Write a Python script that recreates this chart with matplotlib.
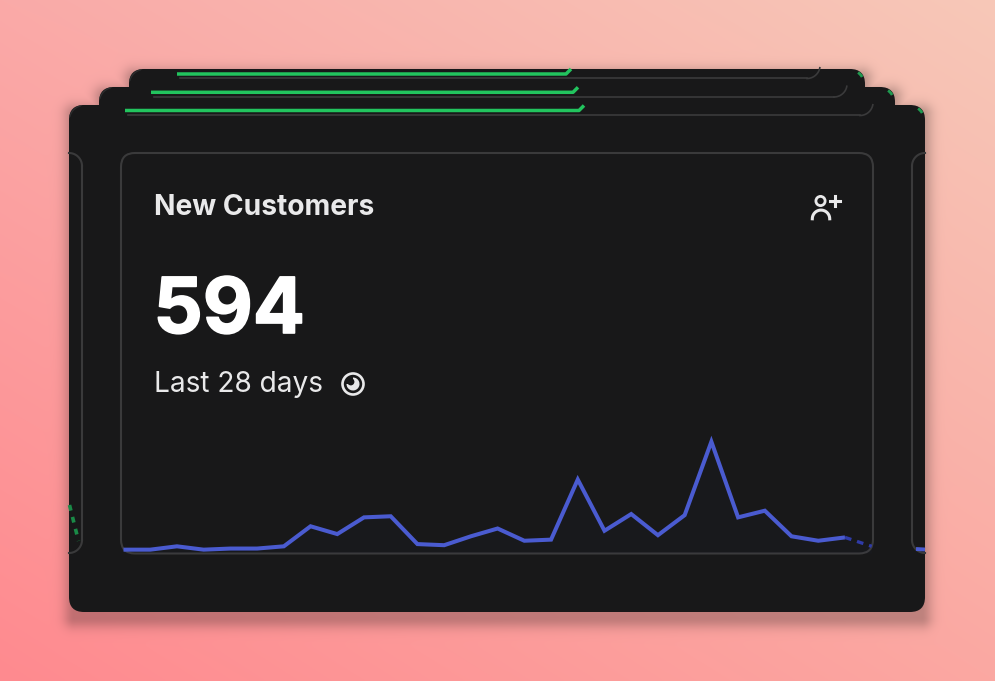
#!/usr/bin/env python3
import numpy as np
import matplotlib
matplotlib.use('Agg')
import matplotlib.pyplot as plt
import matplotlib.patheffects as pe
from matplotlib.patches import FancyBboxPatch, Circle, Wedge

W, H = 995, 681

title = 'New Customers'
total = '594'
period = 'Last 28 days'

# daily values
days = list(range(29))
customers = [3, 3, 6, 3, 4, 4, 6, 24, 17, 32, 33, 8, 7, 15, 22, 11, 12, 66,
             20, 35, 16, 34, 100, 32, 38, 15, 11, 14, 6]

CARD = '#181819'
EDGE = '#3a3a3b'
GREEN = '#22c45e'
BLUE = '#4a5bd0'
TEXT = '#e9e9ea'

fig = plt.figure(figsize=((W + 0.01) / 100, (H + 0.01) / 100), dpi=100)
bg = fig.add_axes([0, 0, 1, 1])
bg.set_xlim(0, W)
bg.set_ylim(H, 0)
bg.axis('off')


def background():
    yy, xx = np.mgrid[0:H, 0:W]
    u = xx / (W - 1)
    v = yy / (H - 1)
    corners = {
        'tl': np.array([250, 170, 168.]),
        'tr': np.array([247, 200, 184.]),
        'bl': np.array([255, 138, 143.]),
        'br': np.array([251, 168, 162.]),
    }
    img = np.zeros((H, W, 3))
    for c in range(3):
        top = corners['tl'][c] * (1 - u) + corners['tr'][c] * u
        bot = corners['bl'][c] * (1 - u) + corners['br'][c] * u
        img[..., c] = top * (1 - v) + bot * v
    # soft shadow of the card stack, mostly below it
    dist = np.full((H, W), 1e6)
    for x0, y0, x1, y1 in [(74, 110, 920, 612), (104, 92, 890, 300), (134, 74, 860, 300)]:
        dx = np.maximum(np.maximum(x0 - xx, xx - x1), 0)
        dy = np.maximum(np.maximum(y0 - (yy - 5), (yy - 5) - y1), 0)
        dist = np.minimum(dist, np.hypot(dx, dy))
    alpha = 0.26 * np.exp(-(dist / 11.0) ** 2)
    for c in range(3):
        img[..., c] = img[..., c] * (1 - alpha) + 20 * alpha
    return img / 255


bg.imshow(background(), extent=(0, W, H, 0), aspect='auto', zorder=0)


def rbox(x0, y0, x1, y1, r, **kw):
    p = FancyBboxPatch((x0, y0), x1 - x0, y1 - y0,
                       boxstyle='round,pad=0,rounding_size=%s' % r, **kw)
    bg.add_patch(p)
    return p


def arc(cx, cy, r, a0, a1, **kw):
    t = np.radians(np.linspace(a0, a1, 30))
    bg.plot(cx + r * np.cos(t), cy + r * np.sin(t), **kw)


# card stack, back to front
rbox(129, 69, 865, 300, 15, fc=CARD, ec='none', zorder=1)
rbox(99, 87, 895, 300, 15, fc=CARD, ec='none', zorder=2)
rbox(69, 105, 925, 612, 15, fc=CARD, ec='none', zorder=3)

# the panels of the cards behind, only their lower edge is visible
stack = [(177, 571, 74, 78.5, 820), (151, 578, 92.3, 97, 847), (125, 584, 110.5, 115.5, 873)]
for x0, x1, yg, yb, xr in stack:
    bg.plot([x0 + 3, xr - 13], [yb, yb], color=EDGE, lw=1.2, zorder=4)
    arc(xr - 13, yb - 13, 13, 10, 90, color=EDGE, lw=1.2, zorder=4)
    bg.plot([x0, x1 - 5, x1], [yg, yg, yg - 5], color=GREEN,
            lw=2.5, zorder=5, solid_capstyle='butt', solid_joinstyle='round')

# corners of the cards, dark rim and a green tip on the right
for x0, x1, y0 in [(129, 865, 69), (99, 895, 87), (69, 925, 105)]:
    arc(x0 + 15, y0 + 15, 14.5, 195, 255, color='#2d2e2f', lw=0.9, zorder=5)
    arc(x1 - 15, y0 + 15, 14, 305, 330, color='#1f9a50', lw=2.0, zorder=5,
        solid_capstyle='butt')

# front panel with neighbours either side
rbox(121, 153, 873, 553.5, 14, fc='none', ec=EDGE, lw=1.5, zorder=6)
bg.plot([82, 82], [166, 540], color=EDGE, lw=1.5, zorder=6)
arc(69, 540, 13, 0, 90, color=EDGE, lw=1.5, zorder=6)
arc(69, 166, 13, -90, 0, color=EDGE, lw=1.5, zorder=6)
bg.plot([912, 912], [166, 540], color=EDGE, lw=1.5, zorder=6)
arc(925, 540, 13, 90, 180, color=EDGE, lw=1.5, zorder=6)
arc(925, 166, 13, 180, 270, color=EDGE, lw=1.5, zorder=6)
bg.plot([916, 925], [549, 549.5], color=BLUE, lw=2.8, zorder=6, solid_capstyle='butt')
bg.plot([69.5, 72, 75, 78.5], [505, 515, 527, 541], color='#1a8a47', lw=2.6,
        ls=(0, (1.6, 1.8)), zorder=6)

# texts
bg.text(153.5, 215, title, color=TEXT, fontsize=20.3, family='Inter', fontweight='bold',
        va='baseline', ha='left', zorder=7)
bg.text(153.5, 333, total, color='white', fontsize=55.5, family='Inter', fontweight='bold',
        va='baseline', ha='left', zorder=7,
        path_effects=[pe.withStroke(linewidth=1.2, foreground='white')])
bg.text(153.5, 392, period, color=TEXT, fontsize=20.2, family='Inter',
        va='baseline', ha='left', zorder=7)

# clock icon
bg.add_patch(Circle((353, 384), 10.5, fc='none', ec=TEXT, lw=1.9, zorder=7))
bg.add_patch(Wedge((353, 384), 6.5, -90, 180, fc=TEXT, ec='none', zorder=7))
bg.add_patch(Circle((350.8, 381.8), 3.6, fc=CARD, ec='none', zorder=7))

# person plus icon
bg.add_patch(Circle((820.5, 201), 4.6, fc='none', ec=TEXT, lw=2.0, zorder=7))
arc(821, 218.8, 8.7, 180, 360, color=TEXT, lw=2.2, zorder=7)
bg.plot([830, 840], [201, 201], color=TEXT, lw=2.2, zorder=7)
bg.plot([835, 835], [196, 206], color=TEXT, lw=2.2, zorder=7)

# sparkline on its own axes: value 0 sits on px 553, 1 value = 1.113 px
spark_x0, spark_x1 = 123.5, 871.7
spark_bottom, spark_h = 553, 133.6
ax = fig.add_axes([spark_x0 / W, 1 - spark_bottom / H, (spark_x1 - spark_x0) / W, spark_h / H],
                  zorder=2)
ax.patch.set_alpha(0)
ax.axis('off')
ax.set_xlim(days[0], days[-1])
ax.set_ylim(0, 120)
ax.fill_between(days, customers, 0, color=BLUE, alpha=0.018, lw=0)
ax.plot(days[:-1], customers[:-1], color=BLUE, lw=2.9, solid_joinstyle='miter',
        solid_capstyle='butt', clip_on=False)
ax.plot(days[-2:], customers[-2:], color='#2f3ba8', lw=2.4, ls=(0, (2, 1.8)), clip_on=False)

fig.savefig('out.png', dpi=100)
